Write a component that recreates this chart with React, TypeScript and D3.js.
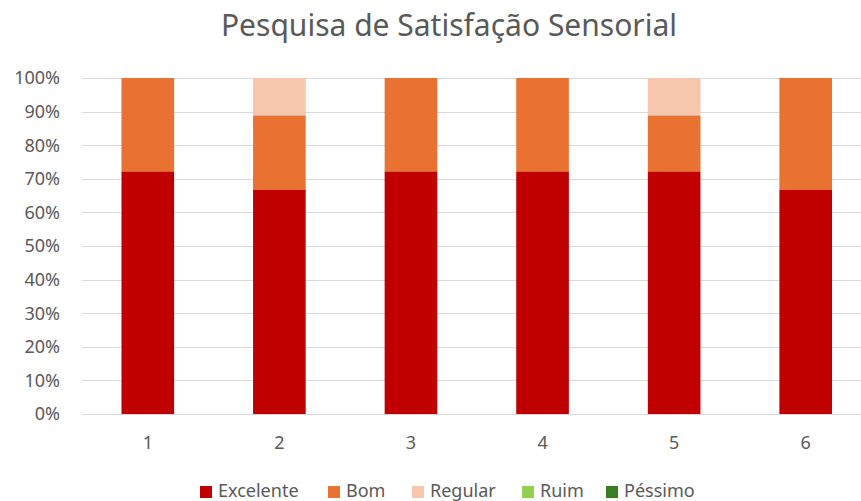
import React, { useRef, useEffect } from 'react';
import * as d3 from 'd3';

// respostas por amostra (de 18 avaliadores)
const amostras = ['1', '2', '3', '4', '5', '6'];
const series = ['Excelente', 'Bom', 'Regular', 'Ruim', 'Péssimo'];
const excelente = [13, 12, 13, 13, 13, 12];
const bom = [5, 4, 5, 5, 3, 6];
const regular = [0, 2, 0, 0, 2, 0];
const ruim = [0, 0, 0, 0, 0, 0];
const pessimo = [0, 0, 0, 0, 0, 0];
const yTicks = [0, 0.1, 0.2, 0.3, 0.4, 0.5, 0.6, 0.7, 0.8, 0.9, 1];
const colors = ['#C00000', '#E97132', '#F6C6AD', '#92D050', '#3B7D23'];

const App = () => {
  const svgRef = useRef<SVGSVGElement>(null);

  useEffect(() => {
    const width = 861;
    const height = 501;
    const font = '"Noto Sans", "Open Sans", sans-serif';
    const textColor = '#595959';

    const svg = d3.select(svgRef.current)
      .attr('width', width)
      .attr('height', height);
    svg.selectAll('*').remove();

    const table = amostras.map((a, i) => ({
      amostra: a,
      Excelente: excelente[i],
      Bom: bom[i],
      Regular: regular[i],
      Ruim: ruim[i],
      'Péssimo': pessimo[i],
    }));

    const stacked = d3.stack<any>()
      .keys(series)
      .offset(d3.stackOffsetExpand)(table);

    const x = d3.scaleBand()
      .domain(amostras)
      .range([82, 871.5])
      .paddingInner(0.6)
      .paddingOuter(0.3);

    const y = d3.scaleLinear()
      .domain([0, 1])
      .range([414, 78]);

    // Gridlines
    svg.append('g')
      .selectAll('line')
      .data(yTicks)
      .join('line')
      .attr('x1', 82)
      .attr('x2', width)
      .attr('y1', d => Math.round(y(d)) + 0.5)
      .attr('y2', d => Math.round(y(d)) + 0.5)
      .attr('stroke', '#D9D9D9')
      .attr('stroke-width', 1);

    // Bars
    const color = d3.scaleOrdinal<string>().domain(series).range(colors);
    svg.append('g')
      .selectAll('g')
      .data(stacked)
      .join('g')
      .attr('fill', d => color(d.key))
      .selectAll('rect')
      .data(d => d)
      .join('rect')
      .attr('x', d => x(d.data.amostra)!)
      .attr('width', x.bandwidth())
      .attr('y', d => y(d[1]))
      .attr('height', d => y(d[0]) - y(d[1]));

    // Y axis labels
    const fmt = d3.format('.0%');
    svg.append('g')
      .selectAll('text')
      .data(yTicks)
      .join('text')
      .attr('x', 60)
      .attr('y', d => y(d))
      .attr('dy', '0.35em')
      .attr('text-anchor', 'end')
      .attr('font-family', font)
      .attr('font-size', 18)
      .attr('fill', textColor)
      .text(d => fmt(d));

    // X axis labels
    svg.append('g')
      .selectAll('text')
      .data(amostras)
      .join('text')
      .attr('x', d => x(d)! + x.bandwidth() / 2)
      .attr('y', 449)
      .attr('text-anchor', 'middle')
      .attr('font-family', font)
      .attr('font-size', 18)
      .attr('fill', textColor)
      .text(d => d);

    // Title
    svg.append('text')
      .attr('x', 449)
      .attr('y', 36)
      .attr('text-anchor', 'middle')
      .attr('font-family', font)
      .attr('font-size', 30)
      .attr('fill', textColor)
      .text('Pesquisa de Satisfação Sensorial');

    // Legend
    const legendX = [200, 328, 412, 522, 606];
    const legend = svg.append('g')
      .selectAll('g')
      .data(series)
      .join('g')
      .attr('transform', (d, i) => `translate(${legendX[i]},0)`);
    legend.append('rect')
      .attr('x', 0)
      .attr('y', 486)
      .attr('width', 12)
      .attr('height', 12)
      .attr('fill', d => color(d));
    legend.append('text')
      .attr('x', 18)
      .attr('y', 497)
      .attr('font-family', font)
      .attr('font-size', 18)
      .attr('fill', textColor)
      .text(d => d);
  }, []);

  return (
    <svg ref={svgRef} style={{ position: 'absolute', left: 0, top: 0 }}></svg>
  );
};

export default App;
